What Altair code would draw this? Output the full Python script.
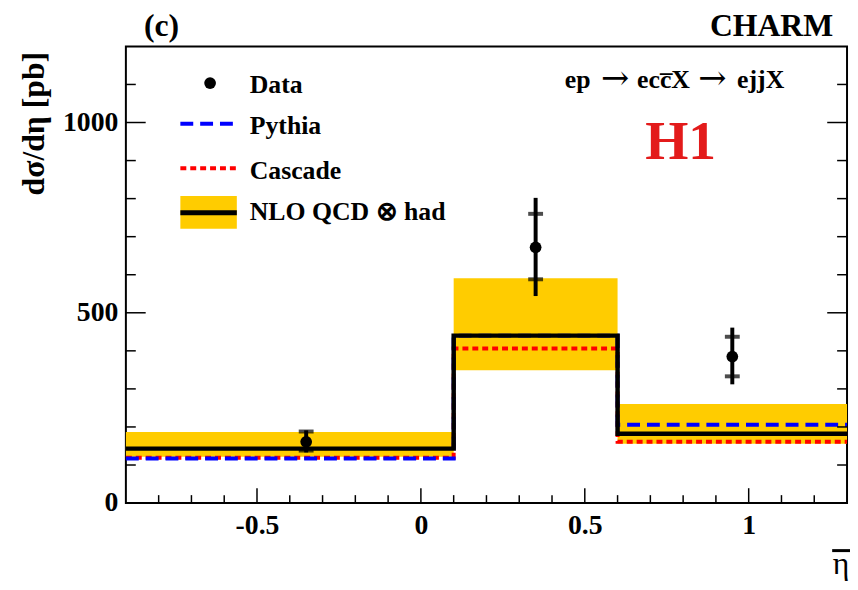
import altair as alt
import pandas as pd

# ---- data ----
bin_lo = [-0.9, 0.1, 0.6]
bin_hi = [0.1, 0.6, 1.3]
nlo = [143, 440, 182]
nlo_lo = [122, 349, 156]
nlo_hi = [187, 591, 260]
pythia = [117, 440, 206]
cascade = [119, 406, 161]

data_x = [-0.35, 0.35, 0.95]
data_y = [161, 672, 385]
stat_lo = [138, 588, 333]
stat_hi = [188, 760, 437]
tot_lo = [133, 544, 312]
tot_hi = [191, 802, 461]

x_major = [-0.5, 0.0, 0.5, 1.0]
x_minor = [-0.8, -0.7, -0.6, -0.4, -0.3, -0.2, -0.1, 0.1, 0.2, 0.3, 0.4,
           0.6, 0.7, 0.8, 0.9, 1.1, 1.2]
y_major = [0, 500, 1000]
y_minor = [100, 200, 300, 400, 600, 700, 800, 900, 1100]

W, H = 728, 461
FONT = "Liberation Serif"

xs = alt.Scale(domain=[-0.9, 1.3], nice=False, zero=False)
ys = alt.Scale(domain=[0, 1200], nice=False, zero=False)

XAX = alt.Axis(values=x_major, ticks=False, domain=False, grid=False,
               labelFont=FONT, labelFontWeight="bold", labelFontSize=28,
               labelColor="black", labelPadding=9,
               labelExpr="datum.value < 0 ? '-' + format(-datum.value, '~g') : format(datum.value, '~g')")
YAX = alt.Axis(values=y_major, ticks=False, domain=False, grid=False,
               labelFont=FONT, labelFontWeight="bold", labelFontSize=28,
               labelColor="black", labelPadding=8, format="d")


def X(f):
    return alt.X(f, scale=xs, axis=XAX, title=None)


def Y(f):
    return alt.Y(f, scale=ys, axis=YAX, title=None)


bins = pd.DataFrame({"lo": bin_lo, "hi": bin_hi, "band_lo": nlo_lo, "band_hi": nlo_hi})


def steps(vals):
    return pd.DataFrame({"x": bin_lo + [bin_hi[-1]], "y": vals + [vals[-1]]})


pts = pd.DataFrame({"x": data_x, "y": data_y, "slo": stat_lo, "shi": stat_hi,
                    "tlo": tot_lo, "thi": tot_hi})
caps = pd.DataFrame({"x": data_x * 2, "y": stat_lo + stat_hi})

band = alt.Chart(bins).mark_rect(color="#FFCC00").encode(
    x=X("lo:Q"), x2="hi:Q", y=Y("band_lo:Q"), y2="band_hi:Q")

casc = alt.Chart(steps(cascade)).mark_line(
    interpolate="step-after", color="#FF0000", strokeWidth=4, strokeDash=[6, 4]
).encode(x=X("x:Q"), y=Y("y:Q"))

pyth = alt.Chart(steps(pythia)).mark_line(
    interpolate="step-after", color="#0000FF", strokeWidth=4, strokeDash=[13, 7]
).encode(x=X("x:Q"), y=Y("y:Q"))

nlo_line = alt.Chart(steps(nlo)).mark_line(
    interpolate="step-after", color="black", strokeWidth=4.5
).encode(x=X("x:Q"), y=Y("y:Q"))

err = alt.Chart(pts).mark_rule(color="black", strokeWidth=4).encode(
    x=X("x:Q"), y=Y("tlo:Q"), y2="thi:Q")
cap = alt.Chart(caps).mark_tick(color="black", orient="horizontal", size=15,
                                thickness=4).encode(x=X("x:Q"), y=Y("y:Q"))
dots = alt.Chart(pts).mark_point(filled=True, color="black", size=140, opacity=1,
                                 shape="circle").encode(x=X("x:Q"), y=Y("y:Q"))

# ---- inward ticks ----
xmaj = alt.Chart(pd.DataFrame({"v": x_major})).mark_rule(color="black", strokeWidth=1.5).encode(
    x=X("v:Q"), y=alt.value(H), y2=alt.value(H - 15))
xmin = alt.Chart(pd.DataFrame({"v": x_minor})).mark_rule(color="black", strokeWidth=1.5).encode(
    x=X("v:Q"), y=alt.value(H), y2=alt.value(H - 8))
ylmaj = alt.Chart(pd.DataFrame({"v": y_major})).mark_rule(color="black", strokeWidth=1.5).encode(
    y=Y("v:Q"), x=alt.value(0), x2=alt.value(20))
ylmin = alt.Chart(pd.DataFrame({"v": y_minor})).mark_rule(color="black", strokeWidth=1.5).encode(
    y=Y("v:Q"), x=alt.value(0), x2=alt.value(10))
yrmaj = alt.Chart(pd.DataFrame({"v": y_major})).mark_rule(color="black", strokeWidth=1.5).encode(
    y=Y("v:Q"), x=alt.value(W), x2=alt.value(W - 20))
yrmin = alt.Chart(pd.DataFrame({"v": y_minor})).mark_rule(color="black", strokeWidth=1.5).encode(
    y=Y("v:Q"), x=alt.value(W), x2=alt.value(W - 10))

one = pd.DataFrame({"a": [0]})


def txt(s, x, y, size, align="left", color="black", angle=0, weight="bold",
        baseline="middle", font=FONT):
    kw = dict(text=s, font=font, fontSize=size, fontWeight=weight, color=color,
              align=align, baseline=baseline)
    if angle:
        kw["angle"] = angle
    return alt.Chart(one).mark_text(**kw).encode(x=alt.value(x), y=alt.value(y))


# ---- legend ----
leg_dot = alt.Chart(one).mark_point(filled=True, color="black", size=140, opacity=1,
                                    shape="circle").encode(x=alt.value(85), y=alt.value(37))
leg_py = alt.Chart(one).mark_rule(color="#0000FF", strokeWidth=4, strokeDash=[13, 7]).encode(
    x=alt.value(55), x2=alt.value(112), y=alt.value(78))
leg_ca = alt.Chart(one).mark_rule(color="#FF0000", strokeWidth=4, strokeDash=[6, 4]).encode(
    x=alt.value(55), x2=alt.value(112), y=alt.value(123))
leg_box = alt.Chart(one).mark_rect(color="#FFCC00").encode(
    x=alt.value(55), x2=alt.value(112), y=alt.value(151), y2=alt.value(184))
leg_nlo = alt.Chart(one).mark_rule(color="black", strokeWidth=5).encode(
    x=alt.value(55), x2=alt.value(112), y=alt.value(168))
eta_bar = alt.Chart(one).mark_rule(color="black", strokeWidth=3).encode(
    x=alt.value(713), x2=alt.value(731), y=alt.value(509))

texts = [
    txt("Data", 125, 39, 26),
    txt("Pythia", 125, 80, 26),
    txt("Cascade", 125, 126, 26),
    txt("NLO QCD \u2297 had", 125, 167, 26),
    txt("ep", 443, 34, 26),
    txt("\u2192", 494, 33, 34, align="center", weight="normal", font="DejaVu Serif"),
    txt("ecc\u0305X", 516, 34, 26),
    txt("\u2192", 592, 33, 34, align="center", weight="normal", font="DejaVu Serif"),
    txt("ejjX", 617, 34, 26),
    txt("H1", 560, 97, 56, align="center", color="#E31B1B"),
    txt("(c)", 36, -20, 32, align="center"),
    txt("CHARM", 714, -21, 32, align="right"),
    txt("d\u03c3/d\u03b7 [pb]", -93, 78, 32, align="center", angle=270),
    txt("\u03b7", 722, 533, 32, align="center", weight="normal", baseline="alphabetic"),
]

chart = alt.layer(
    band, casc, pyth, nlo_line, err, cap, dots,
    xmaj, xmin, ylmaj, ylmin, yrmaj, yrmin,
    leg_box, leg_nlo, leg_py, leg_ca, leg_dot, eta_bar, *texts
).properties(
    width=W, height=H,
    autosize=alt.AutoSizeParams(type="none"),
    padding={"left": 119, "top": 36, "right": 3, "bottom": 85},
).configure(background="white").configure_view(stroke="black", strokeWidth=2)

chart.save("out.html", embed_options={"renderer": "svg", "actions": False})
